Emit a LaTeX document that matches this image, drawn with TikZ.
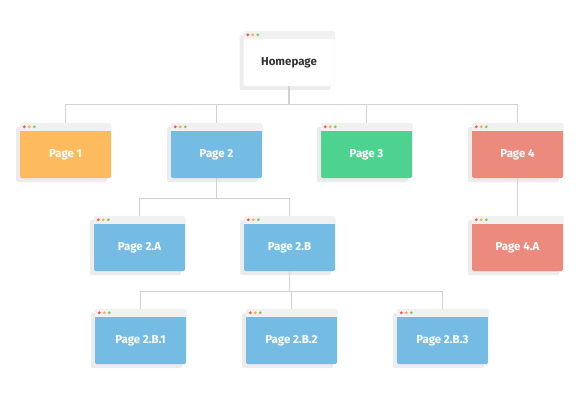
\documentclass[tikz,border=0pt]{standalone}
\usepackage{fontspec}
\setmainfont{Fira Sans}
\usetikzlibrary{shadows}

\definecolor{pageorange}{HTML}{FDBB5E}
\definecolor{pageblue}{HTML}{74BCE4}
\definecolor{pagegreen}{HTML}{4DD290}
\definecolor{pagered}{HTML}{EC8A7E}
\definecolor{bargray}{HTML}{F1F1F1}
\definecolor{shadegray}{HTML}{ECECEC}
\definecolor{linkgray}{HTML}{D2D2D2}
\definecolor{dotred}{HTML}{F15A5A}
\definecolor{dotorange}{HTML}{F6B43C}
\definecolor{dotgreen}{HTML}{7CCB6B}

\tikzset{
    webpage/.style={fill=#1, rounded corners=1.5pt, minimum width=91pt, minimum height=55pt,
        inner sep=0pt, text=white,
        drop shadow={shadow xshift=-4pt, shadow yshift=-4pt, fill=shadegray, opacity=1}},
    link/.style={draw=linkgray, line width=1.4pt},
    pagetext/.style={font=\fontsize{11.5}{13}\selectfont\bfseries},
}

% grey title bar and three dots on top of a page node
\newcommand\windowbar[1]{
    \fill [bargray, rounded corners=1.5pt] (#1.north west) rectangle ([yshift=-8pt]#1.north east) ;
    \fill [bargray] ([yshift=-4pt]#1.north west) rectangle ([yshift=-8pt]#1.north east) ;
    \fill [dotred] ([xshift=4.5pt, yshift=-4pt]#1.north west) circle (1.6pt) ;
    \fill [dotorange] ([xshift=9.5pt, yshift=-4pt]#1.north west) circle (1.6pt) ;
    \fill [dotgreen] ([xshift=14.5pt, yshift=-4pt]#1.north west) circle (1.6pt) ;
}

\begin{document}
\begin{tikzpicture}[x=1pt, y=-1pt]
    \useasboundingbox (0,0) rectangle (580,400) ;

    % pages
    \node [webpage=white, draw=black!5, text=black!80] (home) at (289,58.5) {} ;
    \node [webpage=pageorange] (page1) at (65.5,150.5) {} ;
    \node [webpage=pageblue] (page2) at (216.5,150.5) {} ;
    \node [webpage=pagegreen] (page3) at (366.5,150.5) {} ;
    \node [webpage=pagered] (page4) at (517.5,150.5) {} ;
    \node [webpage=pageblue] (page2a) at (139.5,243.5) {} ;
    \node [webpage=pageblue] (page2b) at (289.5,243.5) {} ;
    \node [webpage=pagered] (page4a) at (517.5,243.5) {} ;
    \node [webpage=pageblue] (page2b1) at (140.5,336.5) {} ;
    \node [webpage=pageblue] (page2b2) at (291.5,336.5) {} ;
    \node [webpage=pageblue] (page2b3) at (442.5,336.5) {} ;

    \foreach \p in {home,page1,page2,page3,page4,page2a,page2b,page4a,page2b1,page2b2,page2b3}
        {\windowbar{\p}}

    % labels
    \node [pagetext, text=black!80] at ([yshift=-4pt]home.center) {Homepage} ;
    \node [pagetext, white] at ([yshift=-4pt]page1.center) {Page 1} ;
    \node [pagetext, white] at ([yshift=-4pt]page2.center) {Page 2} ;
    \node [pagetext, white] at ([yshift=-4pt]page3.center) {Page 3} ;
    \node [pagetext, white] at ([yshift=-4pt]page4.center) {Page 4} ;
    \node [pagetext, white] at ([yshift=-4pt]page2a.center) {Page 2.A} ;
    \node [pagetext, white] at ([yshift=-4pt]page2b.center) {Page 2.B} ;
    \node [pagetext, white] at ([yshift=-4pt]page4a.center) {Page 4.A} ;
    \node [pagetext, white] at ([yshift=-4pt]page2b1.center) {Page 2.B.1} ;
    \node [pagetext, white] at ([yshift=-4pt]page2b2.center) {Page 2.B.2} ;
    \node [pagetext, white] at ([yshift=-4pt]page2b3.center) {Page 2.B.3} ;

    % links
    \foreach \c in {page1,page2,page3,page4}
        \draw [link] (home.south) -- ++(0,18) -| (\c.north) ;
    \foreach \c in {page2a,page2b}
        \draw [link] (page2.south) -- ++(0,20) -| (\c.north) ;
    \draw [link] (page4.south) -- (page4a.north) ;
    \foreach \c in {page2b1,page2b2,page2b3}
        \draw [link] (page2b.south) -- ++(0,20) -| (\c.north) ;
\end{tikzpicture}
\end{document}
